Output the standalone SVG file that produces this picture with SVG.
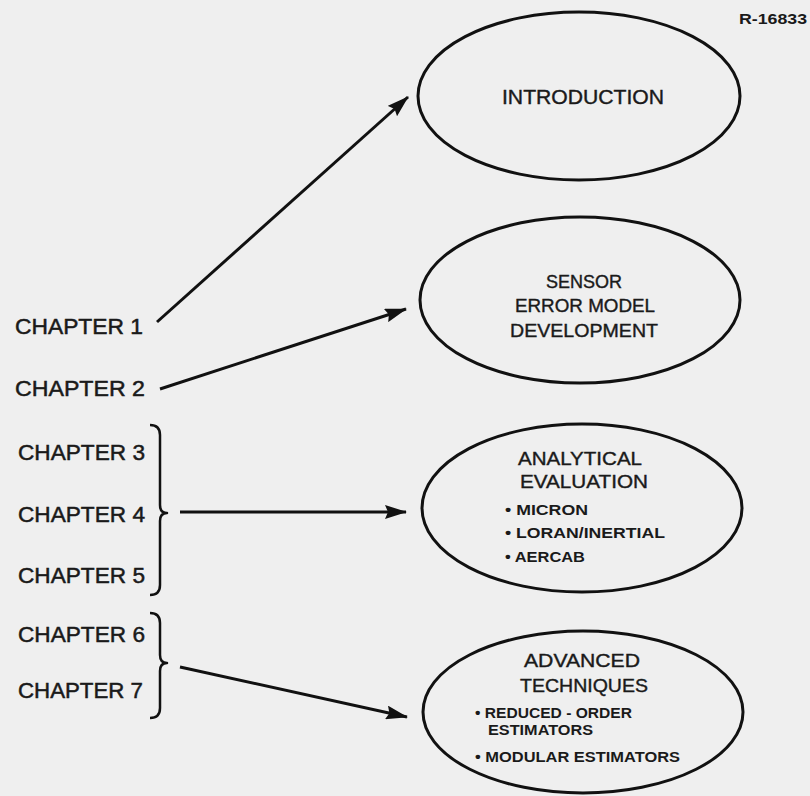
<svg xmlns="http://www.w3.org/2000/svg" width="810" height="796" viewBox="0 0 810 796">
<style>
.bg{fill:#efefef}
.node{fill:none;stroke:#111;stroke-width:3}
.t{font-family:"Liberation Sans",Arial,sans-serif;fill:#1a1a1a;text-anchor:middle;stroke:#1a1a1a;stroke-width:0.4}
.h{font-size:19px}
.b{font-family:"Liberation Sans",Arial,sans-serif;fill:#1a1a1a;font-size:14px;font-weight:bold}
.ch{font-family:"Liberation Sans",Arial,sans-serif;fill:#1a1a1a;font-size:22px;stroke:#1a1a1a;stroke-width:0.5}
.conn{fill:none;stroke:#111;stroke-width:3}
.brace{fill:none;stroke:#111;stroke-width:2.5;stroke-linejoin:round}
</style>
<defs>
<marker id="ah" viewBox="0 0 22 14" refX="21" refY="7" markerWidth="22" markerHeight="14" markerUnits="userSpaceOnUse" orient="auto">
<path d="M0,0 L22,7 L0,14 L3,7 z" fill="#111"/>
</marker>
</defs>
<rect class="bg" x="0" y="0" width="810" height="796"/>
<text x="807" y="24" font-family="Liberation Sans,Arial,sans-serif" font-size="14" font-weight="bold" fill="#1a1a1a" text-anchor="end" textLength="68" lengthAdjust="spacingAndGlyphs">R-16833</text>

<g id="intro">
<ellipse class="node" cx="579" cy="96" rx="161" ry="84"/>
<text class="t" x="583" y="104" font-size="20" textLength="162" lengthAdjust="spacingAndGlyphs">INTRODUCTION</text>
</g>

<g id="sensor">
<ellipse class="node" cx="580" cy="300" rx="160" ry="83"/>
<text class="t h" x="584" y="288" textLength="76" lengthAdjust="spacingAndGlyphs">SENSOR</text>
<text class="t h" x="585" y="312" textLength="140" lengthAdjust="spacingAndGlyphs">ERROR MODEL</text>
<text class="t h" x="584" y="337" textLength="148" lengthAdjust="spacingAndGlyphs">DEVELOPMENT</text>
</g>

<g id="analytical">
<ellipse class="node" cx="582" cy="508" rx="160" ry="84"/>
<text class="t h" x="580" y="465" textLength="124" lengthAdjust="spacingAndGlyphs">ANALYTICAL</text>
<text class="t h" x="584" y="488" textLength="128" lengthAdjust="spacingAndGlyphs">EVALUATION</text>
<text class="b" x="505" y="515" textLength="83" lengthAdjust="spacingAndGlyphs">• MICRON</text>
<text class="b" x="505" y="538" textLength="160" lengthAdjust="spacingAndGlyphs">• LORAN/INERTIAL</text>
<text class="b" x="505" y="562" textLength="80" lengthAdjust="spacingAndGlyphs">• AERCAB</text>
</g>

<g id="advanced">
<ellipse class="node" cx="583" cy="712" rx="160" ry="81"/>
<text class="t h" x="582" y="667" textLength="116" lengthAdjust="spacingAndGlyphs">ADVANCED</text>
<text class="t h" x="584" y="692" textLength="128" lengthAdjust="spacingAndGlyphs">TECHNIQUES</text>
<text class="b" x="475" y="718" textLength="157" lengthAdjust="spacingAndGlyphs">• REDUCED - ORDER</text>
<text class="b" x="488" y="735" textLength="105" lengthAdjust="spacingAndGlyphs">ESTIMATORS</text>
<text class="b" x="475" y="762" textLength="205" lengthAdjust="spacingAndGlyphs">• MODULAR ESTIMATORS</text>
</g>

<g id="ch1"><text class="ch" x="15" y="334" textLength="128" lengthAdjust="spacingAndGlyphs">CHAPTER 1</text></g>
<g id="ch2"><text class="ch" x="15" y="396" textLength="130" lengthAdjust="spacingAndGlyphs">CHAPTER 2</text></g>
<g id="ch3"><text class="ch" x="18" y="460" textLength="127" lengthAdjust="spacingAndGlyphs">CHAPTER 3</text></g>
<g id="ch4"><text class="ch" x="18" y="522" textLength="127" lengthAdjust="spacingAndGlyphs">CHAPTER 4</text></g>
<g id="ch5"><text class="ch" x="18" y="583" textLength="127" lengthAdjust="spacingAndGlyphs">CHAPTER 5</text></g>
<g id="ch6"><text class="ch" x="18" y="642" textLength="127" lengthAdjust="spacingAndGlyphs">CHAPTER 6</text></g>
<g id="ch7"><text class="ch" x="18" y="698" textLength="125" lengthAdjust="spacingAndGlyphs">CHAPTER 7</text></g>

<g id="braces">
<path class="brace" d="M150,425 Q160,425 160,435 L160,505 Q160,513 167,513 Q160,513 160,521 L160,585 Q160,595 150,595"/>
<path class="brace" d="M150,613 Q160,613 160,623 L160,655 Q160,663 167,663 Q160,663 160,671 L160,708 Q160,718 150,718"/>
</g>

<g id="connectors">
<line class="conn" x1="157" y1="322" x2="408" y2="97" marker-end="url(#ah)"/>
<line class="conn" x1="160" y1="389" x2="406" y2="309" marker-end="url(#ah)"/>
<line class="conn" x1="180" y1="512" x2="406" y2="512" marker-end="url(#ah)"/>
<line class="conn" x1="180" y1="667" x2="407" y2="717" marker-end="url(#ah)"/>
</g>
</svg>
